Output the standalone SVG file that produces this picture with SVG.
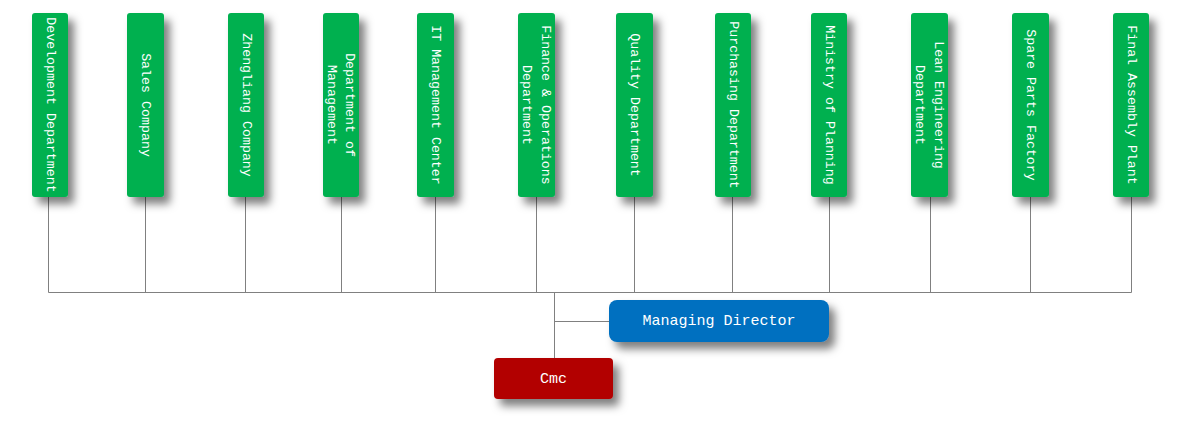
<svg xmlns="http://www.w3.org/2000/svg" width="1200" height="434" viewBox="0 0 1200 434">
<defs>
<filter id="sh" x="-40%" y="-30%" width="190%" height="180%">
<feDropShadow dx="6" dy="7" stdDeviation="4" flood-color="#000" flood-opacity="0.5"/>
</filter>
</defs>
<style>
.g{fill:#00B050;filter:url(#sh)}
.b{fill:#0070C0;filter:url(#sh)}
.r{fill:#B20606;filter:url(#sh)}
.t{fill:#fff;font-family:"Liberation Mono","DejaVu Sans Mono",monospace;font-size:13.3px;text-anchor:middle;dominant-baseline:central}
.t2{fill:#fff;font-family:"Liberation Mono","DejaVu Sans Mono",monospace;font-size:15px;text-anchor:middle;dominant-baseline:central}
.c{fill:none;stroke:#808080;stroke-width:1}
</style>
<rect width="1200" height="434" fill="#fff"/>
<g id="connectors">
<path class="c" d="M48.5,197 V292.5 H1131.5 V197"/>
<path class="c" d="M145.5,197 V292.5 M245.5,197 V292.5 M341.5,197 V292.5 M435.5,197 V292.5 M536.5,197 V292.5 M634.5,197 V292.5 M732.5,197 V292.5 M829.5,197 V292.5 M930.5,197 V292.5 M1030.5,197 V292.5"/>
<path class="c" d="M554.5,292.5 V358 M554.5,321.5 H609"/>
</g>
<g id="n1"><rect class="g" x="32" y="13" width="36" height="184" rx="3"/><text class="t" transform="translate(50,105) rotate(90)">Development Department</text></g>
<g id="n2"><rect class="g" x="127" y="13" width="37" height="184" rx="3"/><text class="t" transform="translate(145.5,105) rotate(90)">Sales Company</text></g>
<g id="n3"><rect class="g" x="228" y="13" width="36" height="184" rx="3"/><text class="t" transform="translate(246,105) rotate(90)">Zhengliang Company</text></g>
<g id="n4"><rect class="g" x="323" y="13" width="36" height="184" rx="3"/><text class="t" transform="translate(341,105) rotate(90)"><tspan x="0" y="-9.4">Department of</tspan><tspan x="0" y="9.4">Management</tspan></text></g>
<g id="n5"><rect class="g" x="417" y="13" width="37" height="184" rx="3"/><text class="t" transform="translate(435.5,105) rotate(90)">IT Management Center</text></g>
<g id="n6"><rect class="g" x="518" y="13" width="37" height="184" rx="3"/><text class="t" transform="translate(536.5,105) rotate(90)"><tspan x="0" y="-9.4">Finance &amp; Operations</tspan><tspan x="0" y="9.4">Department</tspan></text></g>
<g id="n7"><rect class="g" x="616" y="13" width="37" height="184" rx="3"/><text class="t" transform="translate(634.5,105) rotate(90)">Quality Department</text></g>
<g id="n8"><rect class="g" x="715" y="13" width="36" height="184" rx="3"/><text class="t" transform="translate(733,105) rotate(90)">Purchasing Department</text></g>
<g id="n9"><rect class="g" x="811" y="13" width="36" height="184" rx="3"/><text class="t" transform="translate(829,105) rotate(90)">Ministry of Planning</text></g>
<g id="n10"><rect class="g" x="911" y="13" width="37" height="184" rx="3"/><text class="t" transform="translate(929.5,105) rotate(90)"><tspan x="0" y="-9.4">Lean Engineering</tspan><tspan x="0" y="9.4">Department</tspan></text></g>
<g id="n11"><rect class="g" x="1012" y="13" width="37" height="184" rx="3"/><text class="t" transform="translate(1030.5,105) rotate(90)">Spare Parts Factory</text></g>
<g id="n12"><rect class="g" x="1113" y="13" width="36" height="184" rx="3"/><text class="t" transform="translate(1131,105) rotate(90)">Final Assembly Plant</text></g>
<g id="md"><rect class="b" x="609" y="300" width="220" height="42" rx="8"/><text class="t2" x="719" y="321">Managing Director</text></g>
<g id="cmc"><rect class="r" x="494" y="358" width="119" height="41" rx="4"/><text class="t2" x="553.5" y="379" font-size="15">Cmc</text></g>
</svg>
